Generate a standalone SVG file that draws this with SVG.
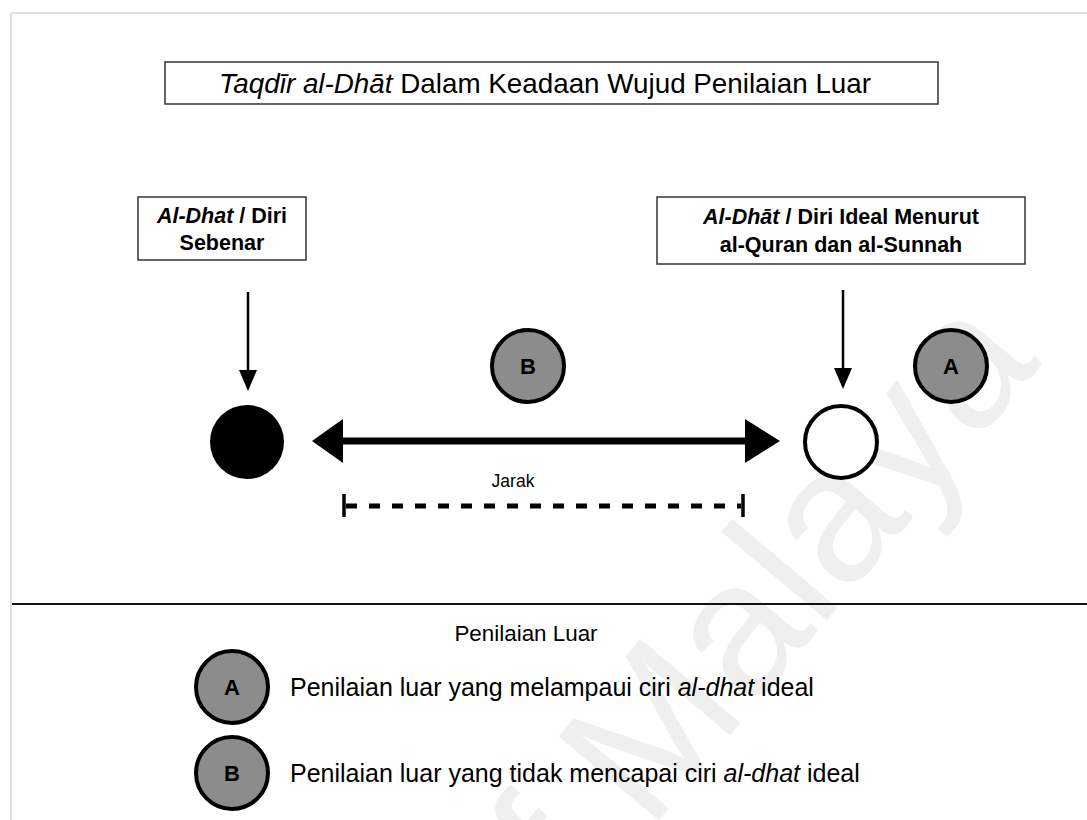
<svg xmlns="http://www.w3.org/2000/svg" width="1087" height="820" viewBox="0 0 1087 820">
<style>
  text { font-family: "Liberation Sans", Arial, Helvetica, sans-serif; fill: #000; }
  .box { fill: #fff; stroke: #333; stroke-width: 1.5; }
  .lbl { font-size: 21.5px; font-weight: bold; text-anchor: middle; }
  .mark { fill: #8c8c8c; stroke: #000; stroke-width: 4; }
  .letter { font-size: 22px; font-weight: bold; text-anchor: middle; }
  .leg { font-size: 25px; }
  .wm { font-size: 190px; fill: #efefef; }
</style>
<rect x="0" y="0" width="1087" height="820" fill="#fff"/>
<g id="watermark">
  <text class="wm" transform="translate(513,994) rotate(-50)">of Malaya</text>
</g>
<g id="frame" fill="none" stroke="#e0e0e0" stroke-width="2">
  <line x1="11" y1="13" x2="1087" y2="13"/>
  <line x1="11" y1="13" x2="11" y2="820"/>
</g>
<g id="title">
  <rect class="box" x="165" y="62" width="773" height="42"/>
  <text x="545" y="93" font-size="27.8" text-anchor="middle"><tspan font-style="italic">Taqdīr al-Dhāt</tspan> Dalam Keadaan Wujud Penilaian Luar</text>
</g>
<g id="node-sebenar">
  <rect class="box" x="138" y="197" width="168" height="63"/>
  <text class="lbl" x="222" y="223"><tspan font-style="italic">Al-Dhat</tspan> / Diri</text>
  <text class="lbl" x="222" y="250">Sebenar</text>
</g>
<g id="node-ideal">
  <rect class="box" x="657" y="197" width="368" height="67"/>
  <text class="lbl" x="841" y="224"><tspan font-style="italic">Al-Dhāt</tspan> / Diri Ideal Menurut</text>
  <text class="lbl" x="841" y="252">al-Quran dan al-Sunnah</text>
</g>
<g id="node-actual">
  <circle cx="247" cy="442" r="37" fill="#000"/>
</g>
<g id="node-idealpoint">
  <circle cx="841" cy="442" r="36" fill="#fff" stroke="#000" stroke-width="4"/>
</g>
<g id="node-B">
  <circle class="mark" cx="528" cy="366" r="36"/>
  <text class="letter" x="528" y="374">B</text>
</g>
<g id="node-A">
  <circle class="mark" cx="951" cy="366" r="36"/>
  <text class="letter" x="951" y="374">A</text>
</g>
<g id="connectors">
  <line x1="248" y1="292" x2="248" y2="374" stroke="#000" stroke-width="2.5"/>
  <polygon points="248,391 239,370 257,370" fill="#000"/>
  <line x1="843" y1="290" x2="843" y2="372" stroke="#000" stroke-width="2.5"/>
  <polygon points="843,389 834,368 852,368" fill="#000"/>
  <line x1="340" y1="441" x2="750" y2="441" stroke="#000" stroke-width="7"/>
  <polygon points="312,441 343,419 343,463" fill="#000"/>
  <polygon points="780,441 745,419 745,463" fill="#000"/>
  <line x1="346" y1="506" x2="741" y2="506" stroke="#000" stroke-width="5" stroke-dasharray="11 12"/>
  <line x1="344" y1="494" x2="344" y2="517" stroke="#000" stroke-width="3.5"/>
  <line x1="743" y1="494" x2="743" y2="517" stroke="#000" stroke-width="3.5"/>
</g>
<g id="jarak-label">
  <text x="513" y="487" font-size="17.5" text-anchor="middle">Jarak</text>
</g>
<g id="divider">
  <line x1="12" y1="604" x2="1087" y2="604" stroke="#111" stroke-width="2"/>
</g>
<g id="legend">
  <text x="526" y="641" font-size="22.4" text-anchor="middle">Penilaian Luar</text>
  <g id="legend-A">
    <circle class="mark" cx="232" cy="687" r="36"/>
    <text class="letter" x="232" y="695">A</text>
    <text class="leg" x="290" y="696">Penilaian luar yang melampaui ciri <tspan font-style="italic">al-dhat</tspan> ideal</text>
  </g>
  <g id="legend-B">
    <circle class="mark" cx="232" cy="773" r="36"/>
    <text class="letter" x="232" y="781">B</text>
    <text class="leg" x="290" y="782">Penilaian luar yang tidak mencapai ciri <tspan font-style="italic">al-dhat</tspan> ideal</text>
  </g>
</g>
</svg>
